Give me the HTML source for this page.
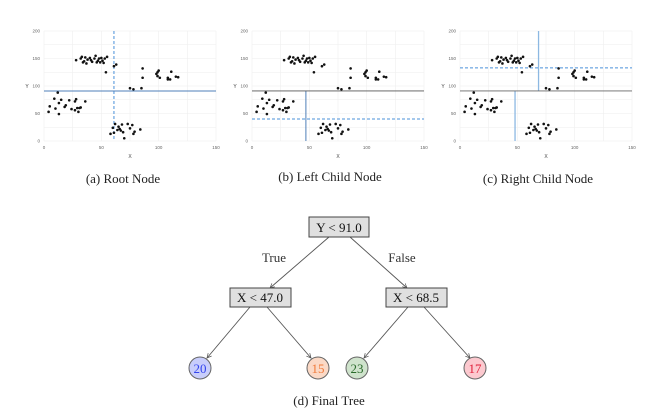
<!DOCTYPE html>
<html><head><style>
body{margin:0;background:#fff;width:659px;height:414px;overflow:hidden}
.sf{font-family:"Liberation Serif",serif}
.ss{font-family:"Liberation Sans",sans-serif}
</style></head><body>
<svg id="s" width="659" height="414" xmlns="http://www.w3.org/2000/svg">
<g font-size="13" fill="#222" text-anchor="middle" class="sf">
<text x="123" y="183">(a) Root Node</text>
<text x="330" y="181">(b) Left Child Node</text>
<text x="538" y="183">(c) Right Child Node</text>
<text x="329" y="405">(d) Final Tree</text>
</g>
<defs><marker id="ar" markerWidth="6" markerHeight="6" refX="5" refY="3" orient="auto"><path d="M0,0.5 L5,3 L0,5.5" fill="none" stroke="#555" stroke-width="0.8"/></marker></defs>
<g stroke="#555" stroke-width="0.9" marker-end="url(#ar)">
<line x1="329" y1="237" x2="270" y2="288"/>
<line x1="350" y1="237" x2="407" y2="288"/>
<line x1="250" y1="307" x2="207" y2="358"/>
<line x1="267" y1="307" x2="311" y2="358"/>
<line x1="408" y1="307" x2="364" y2="358"/>
<line x1="424" y1="307" x2="470" y2="358"/>
</g>
<g font-size="13" text-anchor="middle" class="sf">
<text x="274" y="262" fill="#333">True</text>
<text x="402" y="262" fill="#333">False</text>
<rect x="309" y="217" width="60" height="20" fill="#e0e0e0" stroke="#444" stroke-width="1"/>
<text x="339" y="232" fill="#111">Y &lt; 91.0</text>
<rect x="230" y="288" width="61" height="19" fill="#e0e0e0" stroke="#444" stroke-width="1"/>
<text x="260" y="302" fill="#111">X &lt; 47.0</text>
<rect x="386" y="288" width="61" height="19" fill="#e0e0e0" stroke="#444" stroke-width="1"/>
<text x="416" y="302" fill="#111">X &lt; 68.5</text>
<circle cx="200" cy="368" r="11" fill="#c8cdfb" stroke="#666"/><text x="200" y="373" fill="#3344ee">20</text>
<circle cx="318" cy="368" r="11" fill="#fbd9c6" stroke="#666"/><text x="318" y="373" fill="#f07a3a">15</text>
<circle cx="357" cy="368" r="11" fill="#cfe3cc" stroke="#666"/><text x="357" y="373" fill="#2a6a2a">23</text>
<circle cx="475" cy="368" r="11" fill="#fcc9cf" stroke="#666"/><text x="475" y="373" fill="#e0203a">17</text>
</g>
<g id="plots" class="ss"></g>
</svg>
<script>
var pts=[[28,147],[32,150],[33,153],[34,143],[35,145],[36,152],[37,141],[38,148],[40,151],[41,147],[42,144],[44,150],[45,155],[46,143],[47,146],[48,150],[49,143],[50,151],[51,146],[52,142],[53,150],[55,153],[54,125],[61,136],[63,139],
[75,96],[78,94],[85,96],[86,115],[86,132],[98,122],[99,125],[100,128],[99,118],[101,115],[108,115],[110,112],[108,112],[111,126],[115,117],[117,116],
[4,53],[5,63],[9,77],[10,59],[12,88],[13,69],[13,49],[15,75],[18,62],[19,65],[22,74],[24,58],[27,72],[27,56],[28,76],[29,60],[30,53],[31,60],[32,61],[36,72],
[58,13],[60,24],[61,15],[62,31],[64,20],[65,26],[66,22],[67,19],[68,30],[69,16],[70,5],[73,31],[75,23],[77,29],[78,13],[79,17],[84,21]];
var ox=[44,252,460],g=document.getElementById('plots'),h='';
function X(o,v){return o+v*172/150}function Y(v){return 141-v*0.55}
ox.forEach(function(o,i){
 for(var k=0;k<=6;k++){var v=k*25;h+='<line x1="'+X(o,v)+'" y1="31" x2="'+X(o,v)+'" y2="141" stroke="#eee" stroke-width="0.6"/>';}
 for(var k=0;k<=8;k++){var v=k*25;h+='<line x1="'+o+'" y1="'+Y(v)+'" x2="'+X(o,150)+'" y2="'+Y(v)+'" stroke="#eee" stroke-width="0.6"/>';}
 [0,50,100,150].forEach(function(v){h+='<text x="'+X(o,v)+'" y="149" font-size="4.5" fill="#666" text-anchor="middle">'+v+'</text>';});
 [0,50,100,150,200].forEach(function(v){h+='<text x="'+(o-4)+'" y="'+(Y(v)+1.5)+'" font-size="4.5" fill="#666" text-anchor="end">'+v+'</text>';});
 h+='<text x="'+X(o,75)+'" y="158" font-size="5" fill="#444" text-anchor="middle">X</text>';
 h+='<text x="'+(o-17)+'" y="88" font-size="5" fill="#444" text-anchor="middle">Y</text>';
 if(i==0){h+='<line x1="'+X(o,61)+'" y1="31" x2="'+X(o,61)+'" y2="141" stroke="#4a90d9" stroke-width="1" stroke-dasharray="3,2"/>';
  h+='<line x1="'+o+'" y1="'+Y(91)+'" x2="'+X(o,150)+'" y2="'+Y(91)+'" stroke="#4f7fb8" stroke-width="1"/>';}
 if(i==1){h+='<line x1="'+X(o,47)+'" y1="'+Y(91)+'" x2="'+X(o,47)+'" y2="141" stroke="#4f7fb8" stroke-width="1"/>';
  h+='<line x1="'+o+'" y1="'+Y(40)+'" x2="'+X(o,150)+'" y2="'+Y(40)+'" stroke="#4a90d9" stroke-width="1" stroke-dasharray="3,2"/>';
  h+='<line x1="'+o+'" y1="'+Y(91)+'" x2="'+X(o,150)+'" y2="'+Y(91)+'" stroke="#555" stroke-width="0.8"/>';}
 if(i==2){h+='<line x1="'+X(o,68.5)+'" y1="31" x2="'+X(o,68.5)+'" y2="'+Y(91)+'" stroke="#8cb8e2" stroke-width="1.3"/>';
  h+='<line x1="'+X(o,48)+'" y1="'+Y(91)+'" x2="'+X(o,48)+'" y2="141" stroke="#8cb8e2" stroke-width="1.3"/>';
  h+='<line x1="'+o+'" y1="'+Y(133)+'" x2="'+X(o,150)+'" y2="'+Y(133)+'" stroke="#4a90d9" stroke-width="1" stroke-dasharray="3,2"/>';
  h+='<line x1="'+o+'" y1="'+Y(91)+'" x2="'+X(o,150)+'" y2="'+Y(91)+'" stroke="#666" stroke-width="0.8"/>';}
 pts.forEach(function(p){h+='<circle cx="'+X(o,p[0])+'" cy="'+Y(p[1])+'" r="1.3" fill="#111"/>';});
});
g.innerHTML=h;
</script>
</body></html>
